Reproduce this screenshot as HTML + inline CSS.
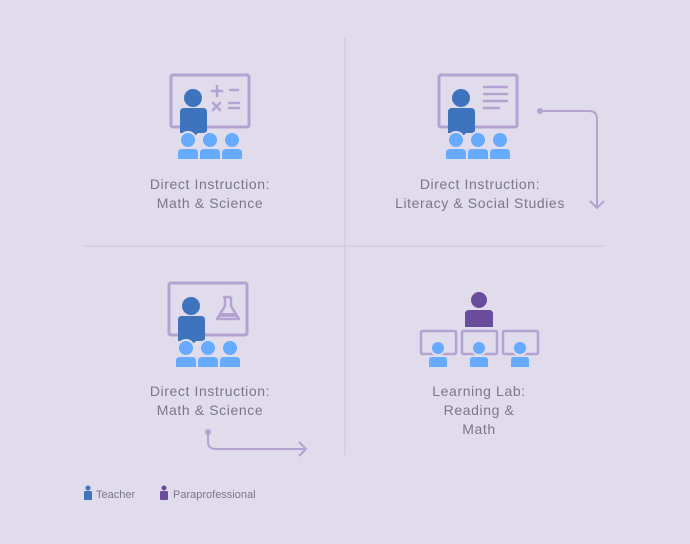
<!DOCTYPE html>
<html><head><meta charset="utf-8"><style>
html,body{margin:0;padding:0;background:#e0dcec;}
svg{display:block}
text{font-family:"Liberation Sans",sans-serif;font-size:14px;letter-spacing:0.6px;fill:#7b7689;text-anchor:middle}
</style></head><body>
<svg width="690" height="544" viewBox="0 0 690 544" xmlns="http://www.w3.org/2000/svg">
<rect width="690" height="544" fill="#e0dcec"/>
<line x1="345" y1="38" x2="345" y2="455" stroke="#d2cbe4" stroke-width="1.5"/>
<line x1="83" y1="246" x2="605" y2="246" stroke="#d2cbe4" stroke-width="1.5"/>
<defs>
<g id="cls">
<rect x="171" y="75" width="78" height="52" rx="2" fill="none" stroke="#b4a2d0" stroke-width="3"/>
<circle cx="193" cy="98" r="9" fill="#3d74bd"/>
<path d="M180 112 Q180 108 184 108 L203 108 Q207 108 207 112 L207 133 L198 133 L193 138 L188 133 L180 133 Z" fill="#3d74bd"/>
<g fill="#66abff" stroke="#e0dcec" stroke-width="2">
<circle cx="188" cy="140" r="8"/><circle cx="210" cy="140" r="8"/><circle cx="232" cy="140" r="8"/>
</g>
<g fill="#66abff">
<path d="M178 159 L178 153 Q178 149 182 149 L194 149 Q198 149 198 153 L198 159 Z"/>
<path d="M200 159 L200 153 Q200 149 204 149 L216 149 Q220 149 220 153 L220 159 Z"/>
<path d="M222 159 L222 153 Q222 149 226 149 L238 149 Q242 149 242 153 L242 159 Z"/>
</g>
</g>
</defs>
<use href="#cls"/>
<g stroke="#b4a2d0" stroke-width="2.5" stroke-linecap="round">
<line x1="212" y1="91" x2="222" y2="91"/><line x1="217" y1="86" x2="217" y2="96"/>
<line x1="230" y1="90" x2="238" y2="90"/>
<line x1="213" y1="103" x2="220" y2="110"/><line x1="220" y1="103" x2="213" y2="110"/>
<line x1="229" y1="103" x2="239" y2="103"/><line x1="229" y1="108" x2="239" y2="108"/>
</g>
<text x="210" y="189">Direct Instruction:</text>
<text x="210" y="208">Math &amp; Science</text>
<use href="#cls" transform="translate(268,0)"/>
<g stroke="#b4a2d0" stroke-width="2.5" stroke-linecap="round">
<line x1="484" y1="87" x2="507" y2="87"/><line x1="484" y1="94" x2="507" y2="94"/>
<line x1="484" y1="101" x2="507" y2="101"/><line x1="484" y1="108" x2="499" y2="108"/>
</g>
<text x="480" y="189">Direct Instruction:</text>
<text x="480" y="208">Literacy &amp; Social Studies</text>
<path d="M540 111 L589 111 Q597 111 597 119 L597 208" fill="none" stroke="#b4a2d0" stroke-width="2"/>
<circle cx="540" cy="111" r="3" fill="#b4a2d0"/>
<path d="M590 201 L597 208 L604 201" fill="none" stroke="#b4a2d0" stroke-width="2"/>
<use href="#cls" transform="translate(-2,208)"/>
<g fill="none" stroke="#b4a2d0" stroke-width="2.5" stroke-linejoin="round">
<path d="M223 297 L231 297 M225 297 L225 306 L217 319 L239 319 L231 306 L231 297"/>
</g>
<path d="M221 313 L235 313 L237 317 L219 317 Z" fill="#b4a2d0"/>
<text x="210" y="396">Direct Instruction:</text>
<text x="210" y="415">Math &amp; Science</text>
<path d="M208 432 L208 442 Q208 449 216 449 L306 449" fill="none" stroke="#b4a2d0" stroke-width="2"/>
<circle cx="208" cy="432" r="3" fill="#b4a2d0"/>
<path d="M299 442 L306 449 L299 456" fill="none" stroke="#b4a2d0" stroke-width="2"/>
<circle cx="479" cy="300" r="8" fill="#6a4c9c"/>
<path d="M465 327 L465 314 Q465 310 469 310 L489 310 Q493 310 493 314 L493 327 Z" fill="#6a4c9c"/>
<g fill="none" stroke="#b4a2d0" stroke-width="2.5">
<rect x="421" y="331" width="35" height="23" rx="1.5"/>
<rect x="462" y="331" width="35" height="23" rx="1.5"/>
<rect x="503" y="331" width="35" height="23" rx="1.5"/>
</g>
<g fill="#66abff" stroke="#e0dcec" stroke-width="2">
<circle cx="438" cy="348" r="7"/><circle cx="479" cy="348" r="7"/><circle cx="520" cy="348" r="7"/>
</g>
<g fill="#66abff">
<path d="M429 367 L429 360 Q429 357 432 357 L444 357 Q447 357 447 360 L447 367 Z"/>
<path d="M470 367 L470 360 Q470 357 473 357 L485 357 Q488 357 488 360 L488 367 Z"/>
<path d="M511 367 L511 360 Q511 357 514 357 L526 357 Q529 357 529 360 L529 367 Z"/>
</g>
<text x="479" y="396">Learning Lab:</text>
<text x="479" y="415">Reading &amp;</text>
<text x="479" y="434">Math</text>
<circle cx="88" cy="488" r="2.5" fill="#3d74bd"/>
<rect x="84" y="491" width="8" height="9" rx="1" fill="#3d74bd"/>
<text x="96" y="498" style="font-size:11px;letter-spacing:0;text-anchor:start">Teacher</text>
<circle cx="164" cy="488" r="2.5" fill="#6a4c9c"/>
<rect x="160" y="491" width="8" height="9" rx="1" fill="#6a4c9c"/>
<text x="173" y="498" style="font-size:11px;letter-spacing:0;text-anchor:start">Paraprofessional</text>
</svg>
</body></html>
